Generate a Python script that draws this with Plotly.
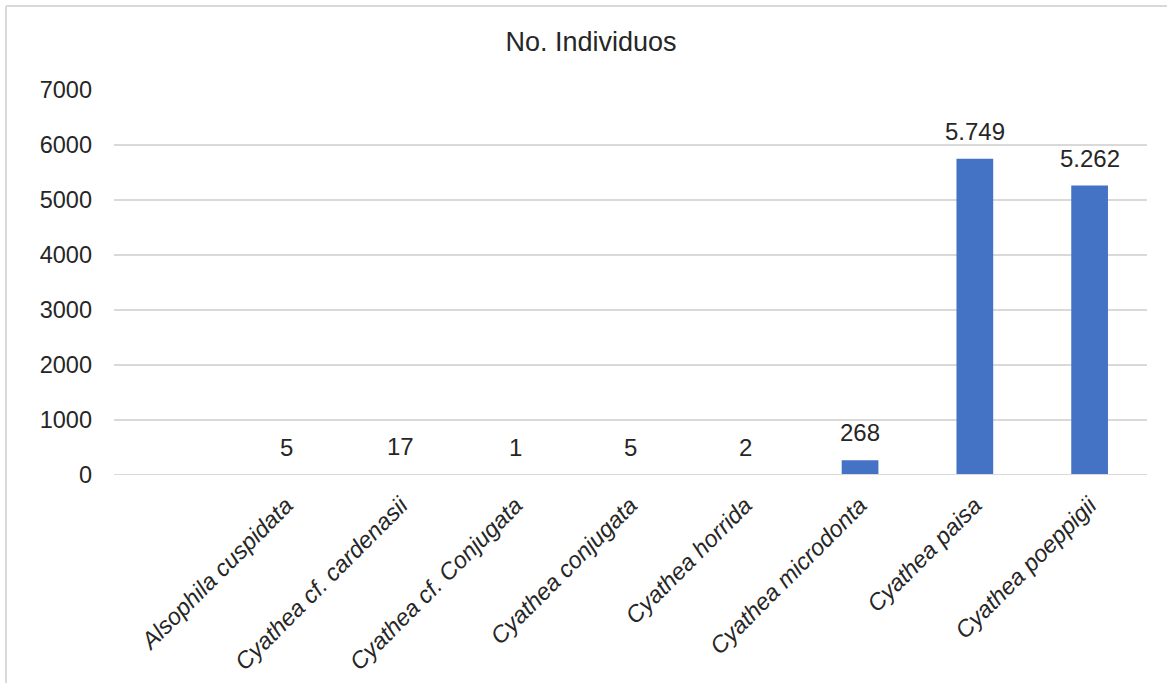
import plotly.graph_objects as go

# Species and number of individuals recorded
species = [
    "Alsophila cuspidata",
    "Cyathea cf. cardenasii",
    "Cyathea cf. Conjugata",
    "Cyathea conjugata",
    "Cyathea horrida",
    "Cyathea microdonta",
    "Cyathea paisa",
    "Cyathea poeppigii",
]
individuos = [5, 17, 1, 5, 2, 268, 5749, 5262]

y_ticks = [0, 1000, 2000, 3000, 4000, 5000, 6000, 7000]

W, H = 1167, 683
L, R, T, B = 114, 20, 90, 208
FONT = "Liberation Sans, Arial, sans-serif"
TXT = "#262626"
GRID = "#d9d9d9"


def fmt(v):
    # thousands separator as a dot
    return f"{v:,}".replace(",", ".")


fig = go.Figure(
    go.Bar(
        x=species,
        y=individuos,
        marker=dict(color="#4472C4", line=dict(width=0)),
        width=0.32,
        hoverinfo="x+y",
    )
)

# value labels above each bar
for s, v in zip(species, individuos):
    fig.add_annotation(
        x=s, y=v, text=fmt(v), showarrow=False,
        xref="x", yref="y", yanchor="bottom", yshift=12,
        font=dict(family=FONT, size=24, color=TXT),
    )

# baseline drawn over the bars
fig.add_shape(type="line", xref="paper", yref="y",
              x0=0, x1=1, y0=0, y1=0, layer="above",
              line=dict(color=GRID, width=2))

# chart-area frame (top and left edges)
pw = W - L - R
ph = H - T - B
px = lambda p: (p - L) / pw
py = lambda p: (H - B - p) / ph
fig.add_shape(type="line", xref="paper", yref="paper",
              x0=px(6), x1=px(W + 20), y0=py(6), y1=py(6),
              line=dict(color=GRID, width=2))
fig.add_shape(type="line", xref="paper", yref="paper",
              x0=px(6), x1=px(6), y0=py(6), y1=py(H + 20),
              line=dict(color=GRID, width=2))

fig.update_layout(
    width=W, height=H,
    margin=dict(l=L, r=R, t=T, b=B, pad=0, autoexpand=False),
    paper_bgcolor="white", plot_bgcolor="white",
    showlegend=False,
    title=dict(
        text="No. Individuos",
        x=591 / W, xref="container", xanchor="center",
        y=1 - 42 / H, yref="container", yanchor="middle",
        font=dict(family=FONT, size=27, color=TXT),
    ),
    xaxis=dict(
        type="category",
        categoryorder="array", categoryarray=species,
        range=[-1.5, len(species) - 0.5],
        tickangle=-45,
        tickfont=dict(family=FONT, size=23.5, color=TXT, style="italic"),
        showgrid=False, showline=False, zeroline=False,
        ticks="", ticklabelstandoff=11,
        automargin=False,
        fixedrange=True,
    ),
    yaxis=dict(
        range=[0, 7000],
        tickvals=y_ticks,
        ticktext=[str(t) for t in y_ticks],
        tickfont=dict(family=FONT, size=23.5, color=TXT),
        showgrid=True, gridcolor=GRID, gridwidth=2,
        zeroline=False,
        showline=False, ticks="", ticklabelstandoff=21,
        automargin=False,
        fixedrange=True,
    ),
)

fig.write_html("out.html")
